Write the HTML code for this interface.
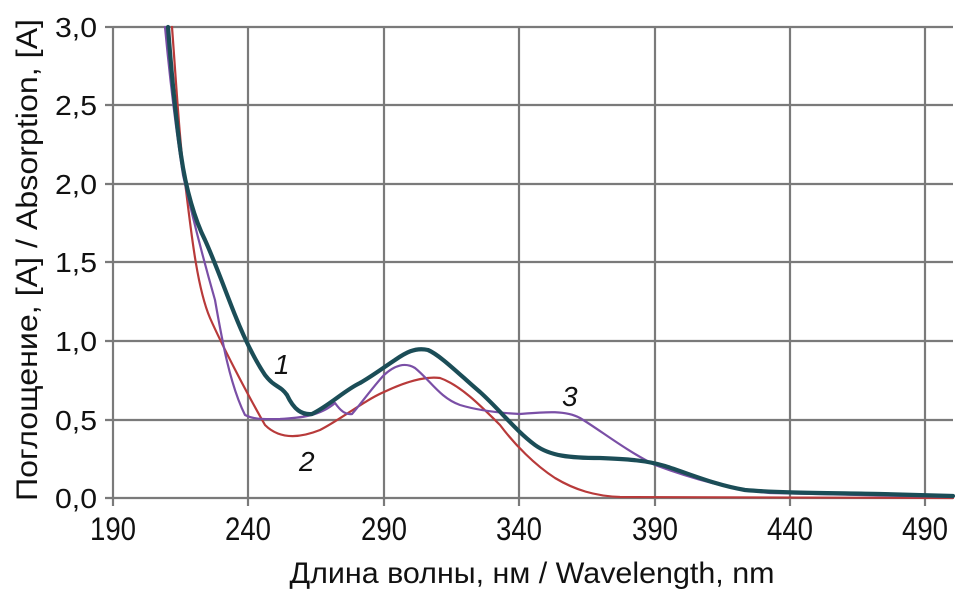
<!DOCTYPE html>
<html><head><meta charset="utf-8"><style>
html,body{margin:0;padding:0;background:#fff;}
svg{display:block;font-family:"Liberation Sans",sans-serif;}
</style></head><body>
<svg width="955" height="593" viewBox="0 0 955 593" xmlns="http://www.w3.org/2000/svg">
<g stroke="#7a7a7a" stroke-width="2.2" fill="none">
<line x1="113" y1="27" x2="953" y2="27"/><line x1="105" y1="105" x2="953" y2="105"/>
<line x1="105" y1="184" x2="953" y2="184"/><line x1="105" y1="262" x2="953" y2="262"/>
<line x1="105" y1="341" x2="953" y2="341"/><line x1="105" y1="420" x2="953" y2="420"/>
<line x1="105" y1="498" x2="953" y2="498"/><line x1="105" y1="27" x2="113" y2="27"/>
<line x1="113" y1="27" x2="113" y2="506"/><line x1="248" y1="27" x2="248" y2="506"/>
<line x1="384" y1="27" x2="384" y2="506"/><line x1="519" y1="27" x2="519" y2="506"/>
<line x1="655" y1="27" x2="655" y2="506"/><line x1="790" y1="27" x2="790" y2="506"/>
<line x1="925" y1="27" x2="925" y2="506"/>
</g>
<g fill="none" stroke-linejoin="round" stroke-linecap="round">
<path stroke="#b83a3a" stroke-width="2.2" d="M172,27 C176,80 180,150 186,190 C192,240 198,290 210,318 C222,345 245,390 265,425 C280,440 300,438 320,430 C340,420 365,400 384,392 C405,382 425,376 440,378 C460,385 480,405 500,425 C515,445 535,465 555,478 C575,490 595,496 620,497 L953,498"/>
<path stroke="#7a4fa6" stroke-width="2.2" d="M165,27 C170,80 176,130 183,175 C192,215 205,265 215,300 C222,340 230,385 245,415 C255,420 265,419 280,419 C300,418 320,416 335,403 C340,410 345,415 352,414 C360,405 372,388 384,375 C395,365 405,362 415,368 C430,380 440,398 460,405 C480,411 500,413 520,414 C545,412 565,410 580,418 C600,430 625,450 655,465 C690,478 730,490 770,493 L953,497"/>
<path stroke="#1b4d57" stroke-width="4.2" d="M168,27 C172,80 176,120 181,155 C186,190 195,220 205,240 C215,262 225,290 235,315 C245,340 255,360 265,375 C275,388 280,385 287,395 C294,410 302,415 312,414 C330,405 345,390 360,383 C372,376 380,370 395,360 C405,353 415,347 428,350 C440,355 460,375 480,392 C500,410 515,430 535,445 C550,456 570,458 600,458 C625,459 645,460 665,466 C690,474 715,485 745,490 C780,493 830,493 880,494 L953,496"/>
</g>
<g font-size="28" fill="#111" text-anchor="end">
<text x="97" y="37" textLength="42" lengthAdjust="spacingAndGlyphs">3,0</text>
<text x="97" y="115" textLength="42" lengthAdjust="spacingAndGlyphs">2,5</text>
<text x="97" y="194" textLength="42" lengthAdjust="spacingAndGlyphs">2,0</text>
<text x="97" y="272" textLength="42" lengthAdjust="spacingAndGlyphs">1,5</text>
<text x="97" y="351" textLength="42" lengthAdjust="spacingAndGlyphs">1,0</text>
<text x="97" y="430" textLength="42" lengthAdjust="spacingAndGlyphs">0,5</text>
<text x="97" y="508" textLength="42" lengthAdjust="spacingAndGlyphs">0,0</text>
</g>
<g font-size="32" fill="#111" text-anchor="middle">
<text x="113" y="540" textLength="46" lengthAdjust="spacingAndGlyphs">190</text>
<text x="248" y="540" textLength="46" lengthAdjust="spacingAndGlyphs">240</text>
<text x="384" y="540" textLength="46" lengthAdjust="spacingAndGlyphs">290</text>
<text x="519" y="540" textLength="46" lengthAdjust="spacingAndGlyphs">340</text>
<text x="655" y="540" textLength="46" lengthAdjust="spacingAndGlyphs">390</text>
<text x="790" y="540" textLength="46" lengthAdjust="spacingAndGlyphs">440</text>
<text x="925" y="540" textLength="46" lengthAdjust="spacingAndGlyphs">490</text>
<text x="532" y="583" font-size="30" textLength="485" lengthAdjust="spacingAndGlyphs">Длина волны, нм / Wavelength, nm</text>
<text transform="translate(37,260) rotate(-90)" font-size="30" textLength="482" lengthAdjust="spacingAndGlyphs">Поглощение, [A] / Absorption, [A]</text>
</g>
<g font-size="28" font-style="italic" fill="#111">
<text x="274" y="374">1</text><text x="299" y="471">2</text><text x="562" y="406">3</text>
</g>
</svg>
</body></html>
